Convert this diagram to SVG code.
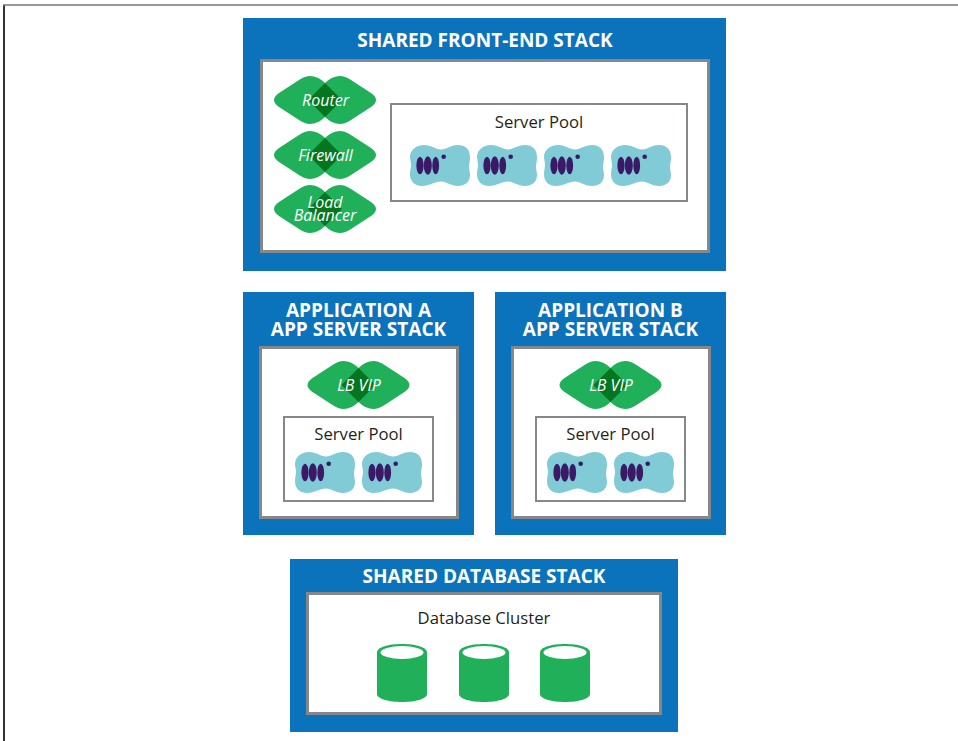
<svg xmlns="http://www.w3.org/2000/svg" width="958" height="741" viewBox="0 0 958 741">
<style>
text{font-family:"Open Sans","Noto Sans","Liberation Sans",sans-serif;text-anchor:middle}
.stack{fill:#0a73bb}
.inner{fill:#fff;stroke:#85878a;stroke-width:3}
.pool{fill:#fff;stroke:#85878a;stroke-width:2}
.title{fill:#fff;font-size:19px;font-weight:700}
.label{fill:#231f20;font-size:16.700px}
.net{fill:#fff;font-size:16px;font-style:italic}
</style>
<defs>
<symbol id="net" overflow="visible" viewBox="-51 -24 102 48" width="102" height="48">
<path fill="#21b05a" d="M-51 0Q-51-3.500-46-7L-26-20Q-20-24-15-24Q-7-24 0-17Q7-24 15-24Q20-24 26-20L46-7Q51-3.500 51 0Q51 3.500 46 7L26 20Q20 24 15 24Q7 24 0 17Q-7 24-15 24Q-20 24-26 20L-46 7Q-51 3.500-51 0Z"/>
<path fill="#05761f" d="M0-17L17 0L0 17L-17 0Z"/>
</symbol>
<symbol id="srv" overflow="visible" viewBox="0 0 61 41" width="61" height="41">
<path fill="#80cbd5" d="M14 0C22 0 25 4.500 31 4.500C37 4.500 40 0 48 0C55 0 60 4 60 12C60 17 59 19 59 22C59 25 60 27 60 30C60 37 55 41 48 41C40 41 37 36.500 31 36.500C24 36.500 20 41 12 41C5 41 0 37 0 29C0 25 1 23 1 20C1 17 0 15 0 12C0 5 6 0 14 0Z"/>
<g fill="#3a1a66"><ellipse cx="10" cy="20.500" rx="3.600" ry="8.800"/><ellipse cx="17.800" cy="20.500" rx="4" ry="9.200"/><ellipse cx="25.700" cy="20.500" rx="3.400" ry="8.800"/><circle cx="33.700" cy="11.700" r="2.300"/></g>
</symbol>
<symbol id="db" overflow="visible" viewBox="0 0 50 58" width="50" height="58">
<path fill="#21b05a" d="M0 8.500C0 3 12 0 25 0S50 3 50 8.500V50C50 55 38 58 25 58S0 55 0 50Z"/>
<ellipse cx="25" cy="8.500" rx="21.500" ry="6.500" fill="#fff"/>
</symbol>
</defs>
<g id="connectors"></g>
<g id="page-frame" fill="none"><path d="M4 741V5" stroke="#333" stroke-width="2"/><path d="M3 5H958" stroke="#777" stroke-width="1.500"/></g>
<g id="front-end-stack">
<rect class="stack" x="243" y="18" width="483" height="253"/>
<text class="title" x="485" y="47">SHARED FRONT-END STACK</text>
<rect class="inner" x="261.500" y="60.500" width="447" height="191"/>
</g>
<g id="router"><use href="#net" x="274" y="76"/><text class="net" x="325.500" y="106">Router</text></g>
<g id="firewall"><use href="#net" x="274" y="131"/><text class="net" x="325.500" y="160.500">Firewall</text></g>
<g id="load-balancer"><use href="#net" x="274" y="185"/><text class="net" x="325" y="207.500">Load</text><text class="net" x="325" y="220.500">Balancer</text></g>
<g id="front-pool">
<rect class="pool" x="391" y="104" width="296" height="97"/>
<text class="label" x="539" y="128">Server Pool</text>
<use href="#srv" x="410" y="145"/><use href="#srv" x="477" y="145"/><use href="#srv" x="544" y="145"/><use href="#srv" x="611" y="145"/>
</g>
<g id="app-a-stack">
<rect class="stack" x="243" y="292" width="231" height="243"/>
<text class="title" x="358.500" y="316.500">APPLICATION A</text><text class="title" x="358.500" y="335.500">APP SERVER STACK</text>
<rect class="inner" x="260.500" y="347.500" width="197" height="170"/>
</g>
<g id="app-a-vip"><use href="#net" x="307.500" y="361"/><text class="net" x="359" y="391">LB VIP</text></g>
<g id="app-a-pool">
<rect class="pool" x="284" y="417" width="149" height="84"/>
<text class="label" x="358.500" y="440">Server Pool</text>
<use href="#srv" x="295" y="452"/><use href="#srv" x="362" y="452"/>
</g>
<g id="app-b-stack">
<rect class="stack" x="495" y="292" width="231" height="243"/>
<text class="title" x="610.500" y="316.500">APPLICATION B</text><text class="title" x="610.500" y="335.500">APP SERVER STACK</text>
<rect class="inner" x="512.500" y="347.500" width="197" height="170"/>
</g>
<g id="app-b-vip"><use href="#net" x="559.500" y="361"/><text class="net" x="611" y="391">LB VIP</text></g>
<g id="app-b-pool">
<rect class="pool" x="536" y="417" width="149" height="84"/>
<text class="label" x="610.500" y="440">Server Pool</text>
<use href="#srv" x="547" y="452"/><use href="#srv" x="614" y="452"/>
</g>
<g id="database-stack">
<rect class="stack" x="290" y="559" width="388" height="173"/>
<text class="title" x="484" y="582.500">SHARED DATABASE STACK</text>
<rect class="inner" x="307.500" y="593.500" width="353" height="120"/>
</g>
<g id="database-cluster">
<text class="label" x="484" y="623.500">Database Cluster</text>
<use href="#db" x="377" y="644"/><use href="#db" x="459" y="644"/><use href="#db" x="540" y="644"/>
</g>
</svg>
